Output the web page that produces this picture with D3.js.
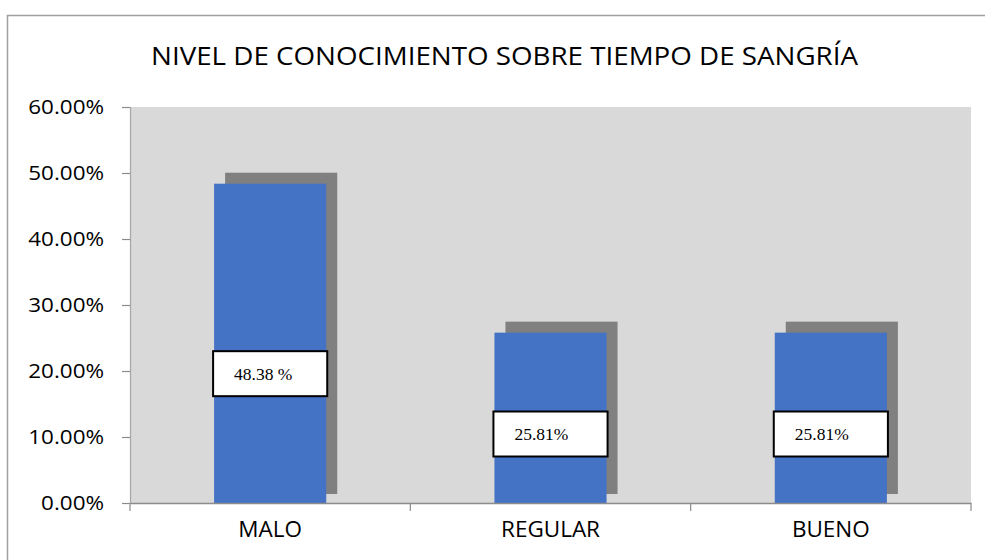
<!DOCTYPE html>
<html>
<head>
<meta charset="utf-8">
<script src="https://cdn.jsdelivr.net/npm/d3@7"></script>
<style>
  html, body { margin: 0; padding: 0; background: #fff; }
  svg { display: block; }
</style>
</head>
<body>
<script>
const categories = ["MALO", "REGULAR", "BUENO"];
const values = [0.4838, 0.2581, 0.2581];
const valueLabels = ["48.38 %", "25.81%", "25.81%"];
const yTicks = [0, 0.1, 0.2, 0.3, 0.4, 0.5, 0.6];
const title = "NIVEL DE CONOCIMIENTO SOBRE TIEMPO DE SANGRÍA";

const W = 985, H = 560;
const plot = { left: 130, right: 971, top: 107, bottom: 503 };
const sans = "'Open Sans', 'Noto Sans', sans-serif";

const svg = d3.select("body").append("svg").attr("width", W).attr("height", H);

// outer chart border
svg.append("rect")
  .attr("x", 7.5).attr("y", 15.5).attr("width", W + 10).attr("height", H + 10)
  .attr("fill", "#fff").attr("stroke", "#a0a0a0").attr("stroke-width", 1.5);

// title
svg.append("text")
  .attr("x", 504.5).attr("y", 65)
  .attr("text-anchor", "middle")
  .attr("font-family", sans)
  .attr("font-size", 26)
  .attr("fill", "#000")
  .attr("textLength", 707).attr("lengthAdjust", "spacingAndGlyphs")
  .text(title);

const x = d3.scaleBand().domain(categories)
  .range([plot.left, plot.right]).paddingInner(0.6).paddingOuter(0.3);
const y = d3.scaleLinear().domain([0, 0.6]).range([plot.bottom, plot.top]);

// plot area background
svg.append("rect")
  .attr("x", plot.left).attr("y", plot.top)
  .attr("width", plot.right - plot.left).attr("height", plot.bottom - plot.top)
  .attr("fill", "#d9d9d9");

// shadows
svg.append("g").selectAll("rect").data(values).join("rect")
  .attr("x", (d, i) => x(categories[i]) + 11)
  .attr("y", d => y(d) - 11)
  .attr("width", x.bandwidth())
  .attr("height", d => (y(0) - 9) - (y(d) - 11))
  .attr("fill", "#808080");

// bars
svg.append("g").selectAll("rect").data(values).join("rect")
  .attr("x", (d, i) => x(categories[i]))
  .attr("y", d => y(d))
  .attr("width", x.bandwidth())
  .attr("height", d => y(0) - y(d))
  .attr("fill", "#4472c4");

// y axis
const yAxis = d3.axisLeft(y).tickValues(yTicks)
  .tickFormat(d => (d * 100).toFixed(2) + "%").tickSize(8).tickPadding(18);
const gy = svg.append("g").attr("transform", `translate(${plot.left},0)`).call(yAxis);
gy.select(".domain").attr("stroke", "#a6a6a6").attr("stroke-width", 1.2);
gy.selectAll(".tick line").attr("stroke", "#8c8c8c").attr("stroke-width", 1.2);
gy.selectAll(".tick text")
  .attr("font-family", sans)
  .attr("font-size", 19.5).attr("fill", "#000")
  .each(function () {
    const len = this.getComputedTextLength();
    d3.select(this).attr("textLength", len * 1.15).attr("lengthAdjust", "spacingAndGlyphs");
  });

// x axis
const xAxis = d3.axisBottom(x).tickSize(0).tickPadding(0);
const gx = svg.append("g").attr("transform", `translate(0,${plot.bottom})`).call(xAxis);
gx.select(".domain").attr("stroke", "#8c8c8c").attr("stroke-width", 1.5);
gx.selectAll(".tick text")
  .attr("dy", null).attr("y", 34)
  .attr("font-family", sans)
  .attr("font-size", 22.5).attr("fill", "#000");

// category separator ticks
const bounds = d3.range(categories.length + 1).map(i => plot.left + i * (plot.right - plot.left) / categories.length);
svg.append("g").selectAll("line").data(bounds).join("line")
  .attr("x1", d => d).attr("x2", d => d)
  .attr("y1", plot.bottom).attr("y2", plot.bottom + 8)
  .attr("stroke", "#8c8c8c").attr("stroke-width", 1.2);

// data labels
const lbl = svg.append("g").selectAll("g").data(values).join("g")
  .attr("transform", (d, i) => `translate(${x(categories[i]) - 1},${y(d * 0.405)})`);
lbl.append("rect")
  .attr("x", 0).attr("y", -22.5).attr("width", x.bandwidth() + 2).attr("height", 45)
  .attr("fill", "#fff").attr("stroke", "#000").attr("stroke-width", 2);
lbl.append("text")
  .attr("x", 21).attr("y", 6)
  .attr("font-family", "'Liberation Serif', 'Times New Roman', serif")
  .attr("font-size", 17.5).attr("fill", "#000")
  .text((d, i) => valueLabels[i]);
</script>
</body>
</html>
